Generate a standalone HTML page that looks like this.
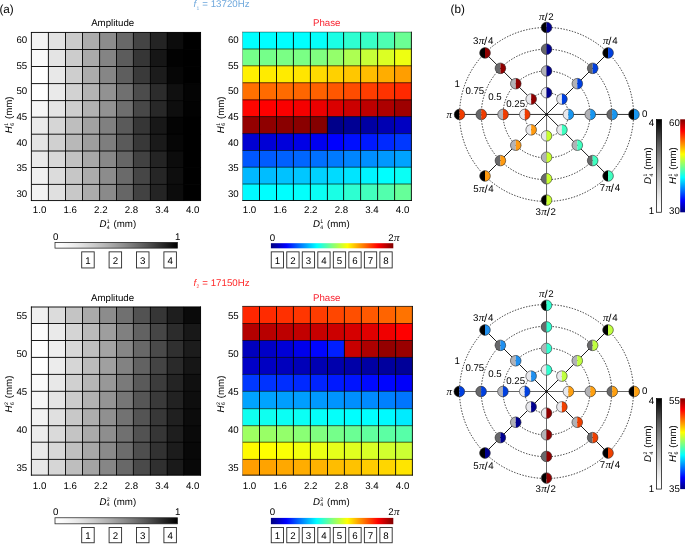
<!DOCTYPE html>
<html><head><meta charset="utf-8"><title>Figure</title>
<style>
html,body{margin:0;padding:0;background:#fff;}
body{width:685px;height:544px;overflow:hidden;font-family:"Liberation Sans",sans-serif;}
svg{display:block;font-family:"Liberation Sans",sans-serif;text-rendering:geometricPrecision;}
#w{will-change:transform;width:685px;height:544px;}
</style></head><body>
<div id="w"><svg width="685" height="544" viewBox="0 0 685 544">
<rect width="685" height="544" fill="#fff"/>
<rect x="31.20" y="32.25" width="17.40" height="17.45" fill="#f4f4f4"/>
<rect x="48.20" y="32.25" width="17.50" height="17.45" fill="#e2e2e2"/>
<rect x="65.30" y="32.25" width="17.40" height="17.45" fill="#cbcbcb"/>
<rect x="82.30" y="32.25" width="17.50" height="17.45" fill="#acacac"/>
<rect x="99.40" y="32.25" width="17.30" height="17.45" fill="#8c8c8c"/>
<rect x="116.30" y="32.25" width="17.30" height="17.45" fill="#686868"/>
<rect x="133.20" y="32.25" width="17.40" height="17.45" fill="#444444"/>
<rect x="150.20" y="32.25" width="17.20" height="17.45" fill="#242424"/>
<rect x="167.00" y="32.25" width="17.00" height="17.45" fill="#0c0c0c"/>
<rect x="183.60" y="32.25" width="17.15" height="17.45" fill="#000000"/>
<rect x="31.20" y="49.30" width="17.40" height="17.40" fill="#fafafa"/>
<rect x="48.20" y="49.30" width="17.50" height="17.40" fill="#e4e4e4"/>
<rect x="65.30" y="49.30" width="17.40" height="17.40" fill="#cccccc"/>
<rect x="82.30" y="49.30" width="17.50" height="17.40" fill="#aaaaaa"/>
<rect x="99.40" y="49.30" width="17.30" height="17.40" fill="#848484"/>
<rect x="116.30" y="49.30" width="17.30" height="17.40" fill="#5c5c5c"/>
<rect x="133.20" y="49.30" width="17.40" height="17.40" fill="#363636"/>
<rect x="150.20" y="49.30" width="17.20" height="17.40" fill="#161616"/>
<rect x="167.00" y="49.30" width="17.00" height="17.40" fill="#020202"/>
<rect x="183.60" y="49.30" width="17.15" height="17.40" fill="#000000"/>
<rect x="31.20" y="66.30" width="17.40" height="17.50" fill="#ffffff"/>
<rect x="48.20" y="66.30" width="17.50" height="17.50" fill="#e8e8e8"/>
<rect x="65.30" y="66.30" width="17.40" height="17.50" fill="#cecece"/>
<rect x="82.30" y="66.30" width="17.50" height="17.50" fill="#acacac"/>
<rect x="99.40" y="66.30" width="17.30" height="17.50" fill="#868686"/>
<rect x="116.30" y="66.30" width="17.30" height="17.50" fill="#5e5e5e"/>
<rect x="133.20" y="66.30" width="17.40" height="17.50" fill="#3a3a3a"/>
<rect x="150.20" y="66.30" width="17.20" height="17.50" fill="#1c1c1c"/>
<rect x="167.00" y="66.30" width="17.00" height="17.50" fill="#060606"/>
<rect x="183.60" y="66.30" width="17.15" height="17.50" fill="#000000"/>
<rect x="31.20" y="83.40" width="17.40" height="17.40" fill="#ffffff"/>
<rect x="48.20" y="83.40" width="17.50" height="17.40" fill="#eaeaea"/>
<rect x="65.30" y="83.40" width="17.40" height="17.40" fill="#d2d2d2"/>
<rect x="82.30" y="83.40" width="17.50" height="17.40" fill="#b4b4b4"/>
<rect x="99.40" y="83.40" width="17.30" height="17.40" fill="#929292"/>
<rect x="116.30" y="83.40" width="17.30" height="17.40" fill="#707070"/>
<rect x="133.20" y="83.40" width="17.40" height="17.40" fill="#4c4c4c"/>
<rect x="150.20" y="83.40" width="17.20" height="17.40" fill="#2c2c2c"/>
<rect x="167.00" y="83.40" width="17.00" height="17.40" fill="#101010"/>
<rect x="183.60" y="83.40" width="17.15" height="17.40" fill="#040404"/>
<rect x="31.20" y="100.40" width="17.40" height="17.00" fill="#f6f6f6"/>
<rect x="48.20" y="100.40" width="17.50" height="17.00" fill="#e4e4e4"/>
<rect x="65.30" y="100.40" width="17.40" height="17.00" fill="#cecece"/>
<rect x="82.30" y="100.40" width="17.50" height="17.00" fill="#b2b2b2"/>
<rect x="99.40" y="100.40" width="17.30" height="17.00" fill="#929292"/>
<rect x="116.30" y="100.40" width="17.30" height="17.00" fill="#6e6e6e"/>
<rect x="133.20" y="100.40" width="17.40" height="17.00" fill="#484848"/>
<rect x="150.20" y="100.40" width="17.20" height="17.00" fill="#282828"/>
<rect x="167.00" y="100.40" width="17.00" height="17.00" fill="#0e0e0e"/>
<rect x="183.60" y="100.40" width="17.15" height="17.00" fill="#020202"/>
<rect x="31.20" y="117.00" width="17.40" height="17.40" fill="#eaeaea"/>
<rect x="48.20" y="117.00" width="17.50" height="17.40" fill="#d6d6d6"/>
<rect x="65.30" y="117.00" width="17.40" height="17.40" fill="#bebebe"/>
<rect x="82.30" y="117.00" width="17.50" height="17.40" fill="#a2a2a2"/>
<rect x="99.40" y="117.00" width="17.30" height="17.40" fill="#808080"/>
<rect x="116.30" y="117.00" width="17.30" height="17.40" fill="#5a5a5a"/>
<rect x="133.20" y="117.00" width="17.40" height="17.40" fill="#363636"/>
<rect x="150.20" y="117.00" width="17.20" height="17.40" fill="#181818"/>
<rect x="167.00" y="117.00" width="17.00" height="17.40" fill="#040404"/>
<rect x="183.60" y="117.00" width="17.15" height="17.40" fill="#000000"/>
<rect x="31.20" y="134.00" width="17.40" height="17.20" fill="#e4e4e4"/>
<rect x="48.20" y="134.00" width="17.50" height="17.20" fill="#d0d0d0"/>
<rect x="65.30" y="134.00" width="17.40" height="17.20" fill="#b8b8b8"/>
<rect x="82.30" y="134.00" width="17.50" height="17.20" fill="#9e9e9e"/>
<rect x="99.40" y="134.00" width="17.30" height="17.20" fill="#7e7e7e"/>
<rect x="116.30" y="134.00" width="17.30" height="17.20" fill="#5a5a5a"/>
<rect x="133.20" y="134.00" width="17.40" height="17.20" fill="#383838"/>
<rect x="150.20" y="134.00" width="17.20" height="17.20" fill="#1a1a1a"/>
<rect x="167.00" y="134.00" width="17.00" height="17.20" fill="#060606"/>
<rect x="183.60" y="134.00" width="17.15" height="17.20" fill="#000000"/>
<rect x="31.20" y="150.80" width="17.40" height="16.90" fill="#eaeaea"/>
<rect x="48.20" y="150.80" width="17.50" height="16.90" fill="#d8d8d8"/>
<rect x="65.30" y="150.80" width="17.40" height="16.90" fill="#c2c2c2"/>
<rect x="82.30" y="150.80" width="17.50" height="16.90" fill="#a8a8a8"/>
<rect x="99.40" y="150.80" width="17.30" height="16.90" fill="#888888"/>
<rect x="116.30" y="150.80" width="17.30" height="16.90" fill="#666666"/>
<rect x="133.20" y="150.80" width="17.40" height="16.90" fill="#424242"/>
<rect x="150.20" y="150.80" width="17.20" height="16.90" fill="#242424"/>
<rect x="167.00" y="150.80" width="17.00" height="16.90" fill="#0c0c0c"/>
<rect x="183.60" y="150.80" width="17.15" height="16.90" fill="#000000"/>
<rect x="31.20" y="167.30" width="17.40" height="17.30" fill="#f0f0f0"/>
<rect x="48.20" y="167.30" width="17.50" height="17.30" fill="#dcdcdc"/>
<rect x="65.30" y="167.30" width="17.40" height="17.30" fill="#c6c6c6"/>
<rect x="82.30" y="167.30" width="17.50" height="17.30" fill="#acacac"/>
<rect x="99.40" y="167.30" width="17.30" height="17.30" fill="#8c8c8c"/>
<rect x="116.30" y="167.30" width="17.30" height="17.30" fill="#6a6a6a"/>
<rect x="133.20" y="167.30" width="17.40" height="17.30" fill="#464646"/>
<rect x="150.20" y="167.30" width="17.20" height="17.30" fill="#262626"/>
<rect x="167.00" y="167.30" width="17.00" height="17.30" fill="#0e0e0e"/>
<rect x="183.60" y="167.30" width="17.15" height="17.30" fill="#000000"/>
<rect x="31.20" y="184.20" width="17.40" height="16.55" fill="#f2f2f2"/>
<rect x="48.20" y="184.20" width="17.50" height="16.55" fill="#e0e0e0"/>
<rect x="65.30" y="184.20" width="17.40" height="16.55" fill="#c8c8c8"/>
<rect x="82.30" y="184.20" width="17.50" height="16.55" fill="#acacac"/>
<rect x="99.40" y="184.20" width="17.30" height="16.55" fill="#8a8a8a"/>
<rect x="116.30" y="184.20" width="17.30" height="16.55" fill="#666666"/>
<rect x="133.20" y="184.20" width="17.40" height="16.55" fill="#424242"/>
<rect x="150.20" y="184.20" width="17.20" height="16.55" fill="#242424"/>
<rect x="167.00" y="184.20" width="17.00" height="16.55" fill="#0c0c0c"/>
<rect x="183.60" y="184.20" width="17.15" height="16.55" fill="#000000"/>
<path d="M48.40 32.45V200.55M65.50 32.45V200.55M82.50 32.45V200.55M99.60 32.45V200.55M116.50 32.45V200.55M133.40 32.45V200.55M150.40 32.45V200.55M167.20 32.45V200.55M183.80 32.45V200.55M200.55 32.00V201.00M30.95 200.55H201.00M31.40 49.50H200.55M31.40 66.50H200.55M31.40 83.60H200.55M31.40 100.60H200.55M31.40 117.20H200.55M31.40 134.20H200.55M31.40 151.00H200.55M31.40 167.50H200.55M31.40 184.40H200.55" stroke="#000" stroke-width="0.90" fill="none"/>
<path d="M31.40 32.00V201.00M30.95 32.45H201.00" stroke="#000" stroke-width="0.90" fill="none"/>
<rect x="242.55" y="32.00" width="17.15" height="17.20" fill="#00ffff"/>
<rect x="259.30" y="32.00" width="17.40" height="17.20" fill="#00ffff"/>
<rect x="276.30" y="32.00" width="17.30" height="17.20" fill="#00ffff"/>
<rect x="293.20" y="32.00" width="17.40" height="17.20" fill="#00ffff"/>
<rect x="310.20" y="32.00" width="17.40" height="17.20" fill="#05fffa"/>
<rect x="327.20" y="32.00" width="16.60" height="17.20" fill="#1affe5"/>
<rect x="343.40" y="32.00" width="17.40" height="17.20" fill="#2effd1"/>
<rect x="360.40" y="32.00" width="17.40" height="17.20" fill="#38ffc7"/>
<rect x="377.40" y="32.00" width="17.40" height="17.20" fill="#4dffb2"/>
<rect x="394.40" y="32.00" width="17.20" height="17.20" fill="#6bff94"/>
<rect x="242.55" y="48.80" width="17.15" height="17.20" fill="#75ff8a"/>
<rect x="259.30" y="48.80" width="17.40" height="17.20" fill="#75ff8a"/>
<rect x="276.30" y="48.80" width="17.30" height="17.20" fill="#7aff85"/>
<rect x="293.20" y="48.80" width="17.40" height="17.20" fill="#7aff85"/>
<rect x="310.20" y="48.80" width="17.40" height="17.20" fill="#80ff80"/>
<rect x="327.20" y="48.80" width="16.60" height="17.20" fill="#94ff6b"/>
<rect x="343.40" y="48.80" width="17.40" height="17.20" fill="#adff52"/>
<rect x="360.40" y="48.80" width="17.40" height="17.20" fill="#c7ff38"/>
<rect x="377.40" y="48.80" width="17.40" height="17.20" fill="#dbff24"/>
<rect x="394.40" y="48.80" width="17.20" height="17.20" fill="#eeff11"/>
<rect x="242.55" y="65.60" width="17.15" height="17.35" fill="#fff000"/>
<rect x="259.30" y="65.60" width="17.40" height="17.35" fill="#ffeb00"/>
<rect x="276.30" y="65.60" width="17.30" height="17.35" fill="#ffeb00"/>
<rect x="293.20" y="65.60" width="17.40" height="17.35" fill="#ffe500"/>
<rect x="310.20" y="65.60" width="17.40" height="17.35" fill="#ffdb00"/>
<rect x="327.20" y="65.60" width="16.60" height="17.35" fill="#ffd100"/>
<rect x="343.40" y="65.60" width="17.40" height="17.35" fill="#ffc700"/>
<rect x="360.40" y="65.60" width="17.40" height="17.35" fill="#ffbd00"/>
<rect x="377.40" y="65.60" width="17.40" height="17.35" fill="#ffad00"/>
<rect x="394.40" y="65.60" width="17.20" height="17.35" fill="#ff9e00"/>
<rect x="242.55" y="82.55" width="17.15" height="17.50" fill="#ff7000"/>
<rect x="259.30" y="82.55" width="17.40" height="17.50" fill="#ff6b00"/>
<rect x="276.30" y="82.55" width="17.30" height="17.50" fill="#ff6b00"/>
<rect x="293.20" y="82.55" width="17.40" height="17.50" fill="#ff6600"/>
<rect x="310.20" y="82.55" width="17.40" height="17.50" fill="#ff6100"/>
<rect x="327.20" y="82.55" width="16.60" height="17.50" fill="#ff5700"/>
<rect x="343.40" y="82.55" width="17.40" height="17.50" fill="#ff4c00"/>
<rect x="360.40" y="82.55" width="17.40" height="17.50" fill="#ff3d00"/>
<rect x="377.40" y="82.55" width="17.40" height="17.50" fill="#ff3300"/>
<rect x="394.40" y="82.55" width="17.20" height="17.50" fill="#ff2900"/>
<rect x="242.55" y="99.65" width="17.15" height="17.15" fill="#ff0500"/>
<rect x="259.30" y="99.65" width="17.40" height="17.15" fill="#ff0000"/>
<rect x="276.30" y="99.65" width="17.30" height="17.15" fill="#fa0000"/>
<rect x="293.20" y="99.65" width="17.40" height="17.15" fill="#f50000"/>
<rect x="310.20" y="99.65" width="17.40" height="17.15" fill="#eb0000"/>
<rect x="327.20" y="99.65" width="16.60" height="17.15" fill="#db0000"/>
<rect x="343.40" y="99.65" width="17.40" height="17.15" fill="#cc0000"/>
<rect x="360.40" y="99.65" width="17.40" height="17.15" fill="#bd0000"/>
<rect x="377.40" y="99.65" width="17.40" height="17.15" fill="#ad0000"/>
<rect x="394.40" y="99.65" width="17.20" height="17.15" fill="#9e0000"/>
<rect x="242.55" y="116.40" width="17.15" height="17.40" fill="#940000"/>
<rect x="259.30" y="116.40" width="17.40" height="17.40" fill="#8f0000"/>
<rect x="276.30" y="116.40" width="17.30" height="17.40" fill="#8a0000"/>
<rect x="293.20" y="116.40" width="17.40" height="17.40" fill="#8a0000"/>
<rect x="310.20" y="116.40" width="17.40" height="17.40" fill="#850000"/>
<rect x="327.20" y="116.40" width="16.60" height="17.40" fill="#00008a"/>
<rect x="343.40" y="116.40" width="17.40" height="17.40" fill="#000094"/>
<rect x="360.40" y="116.40" width="17.40" height="17.40" fill="#0000a3"/>
<rect x="377.40" y="116.40" width="17.40" height="17.40" fill="#0000b2"/>
<rect x="394.40" y="116.40" width="17.20" height="17.40" fill="#0000c2"/>
<rect x="242.55" y="133.40" width="17.15" height="17.30" fill="#0000d1"/>
<rect x="259.30" y="133.40" width="17.40" height="17.30" fill="#0000d6"/>
<rect x="276.30" y="133.40" width="17.30" height="17.30" fill="#0000db"/>
<rect x="293.20" y="133.40" width="17.40" height="17.30" fill="#0000e6"/>
<rect x="310.20" y="133.40" width="17.40" height="17.30" fill="#0000f0"/>
<rect x="327.20" y="133.40" width="16.60" height="17.30" fill="#0000ff"/>
<rect x="343.40" y="133.40" width="17.40" height="17.30" fill="#000fff"/>
<rect x="360.40" y="133.40" width="17.40" height="17.30" fill="#0019ff"/>
<rect x="377.40" y="133.40" width="17.40" height="17.30" fill="#0029ff"/>
<rect x="394.40" y="133.40" width="17.20" height="17.30" fill="#0038ff"/>
<rect x="242.55" y="150.30" width="17.15" height="17.10" fill="#0057ff"/>
<rect x="259.30" y="150.30" width="17.40" height="17.10" fill="#005cff"/>
<rect x="276.30" y="150.30" width="17.30" height="17.10" fill="#0061ff"/>
<rect x="293.20" y="150.30" width="17.40" height="17.10" fill="#0066ff"/>
<rect x="310.20" y="150.30" width="17.40" height="17.10" fill="#0070ff"/>
<rect x="327.20" y="150.30" width="16.60" height="17.10" fill="#007aff"/>
<rect x="343.40" y="150.30" width="17.40" height="17.10" fill="#0085ff"/>
<rect x="360.40" y="150.30" width="17.40" height="17.10" fill="#008fff"/>
<rect x="377.40" y="150.30" width="17.40" height="17.10" fill="#0099ff"/>
<rect x="394.40" y="150.30" width="17.20" height="17.10" fill="#00a3ff"/>
<rect x="242.55" y="167.00" width="17.15" height="17.20" fill="#00b8ff"/>
<rect x="259.30" y="167.00" width="17.40" height="17.20" fill="#00bdff"/>
<rect x="276.30" y="167.00" width="17.30" height="17.20" fill="#00c2ff"/>
<rect x="293.20" y="167.00" width="17.40" height="17.20" fill="#00c7ff"/>
<rect x="310.20" y="167.00" width="17.40" height="17.20" fill="#00d1ff"/>
<rect x="327.20" y="167.00" width="16.60" height="17.20" fill="#00dbff"/>
<rect x="343.40" y="167.00" width="17.40" height="17.20" fill="#00e5ff"/>
<rect x="360.40" y="167.00" width="17.40" height="17.20" fill="#00f5ff"/>
<rect x="377.40" y="167.00" width="17.40" height="17.20" fill="#00ffff"/>
<rect x="394.40" y="167.00" width="17.20" height="17.20" fill="#0afff5"/>
<rect x="242.55" y="183.80" width="17.15" height="16.90" fill="#00faff"/>
<rect x="259.30" y="183.80" width="17.40" height="16.90" fill="#00ffff"/>
<rect x="276.30" y="183.80" width="17.30" height="16.90" fill="#00ffff"/>
<rect x="293.20" y="183.80" width="17.40" height="16.90" fill="#03fffc"/>
<rect x="310.20" y="183.80" width="17.40" height="16.90" fill="#0afff5"/>
<rect x="327.20" y="183.80" width="16.60" height="16.90" fill="#1affe5"/>
<rect x="343.40" y="183.80" width="17.40" height="16.90" fill="#2effd1"/>
<rect x="360.40" y="183.80" width="17.40" height="16.90" fill="#42ffbd"/>
<rect x="377.40" y="183.80" width="17.40" height="16.90" fill="#52ffad"/>
<rect x="394.40" y="183.80" width="17.20" height="16.90" fill="#66ff99"/>
<path d="M242.75 49.00H411.40M242.75 65.80H411.40M242.75 82.75H411.40M242.75 99.85H411.40M242.75 116.60H411.40M242.75 133.60H411.40M242.75 150.50H411.40M242.75 167.20H411.40M242.75 184.00H411.40" stroke="#000" stroke-width="0.90" stroke-opacity="0.72" fill="none"/>
<path d="M259.50 32.20V200.50M276.50 32.20V200.50M293.40 32.20V200.50M310.40 32.20V200.50M327.40 32.20V200.50M343.60 32.20V200.50M360.60 32.20V200.50M377.60 32.20V200.50M394.60 32.20V200.50M411.40 31.75V200.95M242.30 200.50H411.85" stroke="#000" stroke-width="0.90" fill="none"/>
<path d="M242.50 31.75V200.95" stroke="#000" stroke-width="0.60" stroke-opacity="0.45" fill="none"/>
<path d="M242.30 32.10H411.85" stroke="#000" stroke-width="0.80" stroke-opacity="0.5" fill="none"/>
<rect x="31.20" y="306.80" width="17.40" height="16.90" fill="#f0f0f0"/>
<rect x="48.20" y="306.80" width="17.50" height="16.90" fill="#dcdcdc"/>
<rect x="65.30" y="306.80" width="17.40" height="16.90" fill="#c4c4c4"/>
<rect x="82.30" y="306.80" width="17.50" height="16.90" fill="#aaaaaa"/>
<rect x="99.40" y="306.80" width="17.30" height="16.90" fill="#8c8c8c"/>
<rect x="116.30" y="306.80" width="17.30" height="16.90" fill="#707070"/>
<rect x="133.20" y="306.80" width="17.40" height="16.90" fill="#525252"/>
<rect x="150.20" y="306.80" width="17.20" height="16.90" fill="#363636"/>
<rect x="167.00" y="306.80" width="17.00" height="16.90" fill="#1e1e1e"/>
<rect x="183.60" y="306.80" width="17.15" height="16.90" fill="#0a0a0a"/>
<rect x="31.20" y="323.30" width="17.40" height="17.40" fill="#fcfcfc"/>
<rect x="48.20" y="323.30" width="17.50" height="17.40" fill="#eaeaea"/>
<rect x="65.30" y="323.30" width="17.40" height="17.40" fill="#d4d4d4"/>
<rect x="82.30" y="323.30" width="17.50" height="17.40" fill="#bababa"/>
<rect x="99.40" y="323.30" width="17.30" height="17.40" fill="#9e9e9e"/>
<rect x="116.30" y="323.30" width="17.30" height="17.40" fill="#808080"/>
<rect x="133.20" y="323.30" width="17.40" height="17.40" fill="#626262"/>
<rect x="150.20" y="323.30" width="17.20" height="17.40" fill="#464646"/>
<rect x="167.00" y="323.30" width="17.00" height="17.40" fill="#2c2c2c"/>
<rect x="183.60" y="323.30" width="17.15" height="17.40" fill="#181818"/>
<rect x="31.20" y="340.30" width="17.40" height="17.30" fill="#ffffff"/>
<rect x="48.20" y="340.30" width="17.50" height="17.30" fill="#eeeeee"/>
<rect x="65.30" y="340.30" width="17.40" height="17.30" fill="#d8d8d8"/>
<rect x="82.30" y="340.30" width="17.50" height="17.30" fill="#c0c0c0"/>
<rect x="99.40" y="340.30" width="17.30" height="17.30" fill="#a4a4a4"/>
<rect x="116.30" y="340.30" width="17.30" height="17.30" fill="#868686"/>
<rect x="133.20" y="340.30" width="17.40" height="17.30" fill="#686868"/>
<rect x="150.20" y="340.30" width="17.20" height="17.30" fill="#4a4a4a"/>
<rect x="167.00" y="340.30" width="17.00" height="17.30" fill="#303030"/>
<rect x="183.60" y="340.30" width="17.15" height="17.30" fill="#1c1c1c"/>
<rect x="31.20" y="357.20" width="17.40" height="17.40" fill="#ffffff"/>
<rect x="48.20" y="357.20" width="17.50" height="17.40" fill="#ececec"/>
<rect x="65.30" y="357.20" width="17.40" height="17.40" fill="#d6d6d6"/>
<rect x="82.30" y="357.20" width="17.50" height="17.40" fill="#bcbcbc"/>
<rect x="99.40" y="357.20" width="17.30" height="17.40" fill="#a0a0a0"/>
<rect x="116.30" y="357.20" width="17.30" height="17.40" fill="#828282"/>
<rect x="133.20" y="357.20" width="17.40" height="17.40" fill="#626262"/>
<rect x="150.20" y="357.20" width="17.20" height="17.40" fill="#444444"/>
<rect x="167.00" y="357.20" width="17.00" height="17.40" fill="#2a2a2a"/>
<rect x="183.60" y="357.20" width="17.15" height="17.40" fill="#161616"/>
<rect x="31.20" y="374.20" width="17.40" height="17.30" fill="#fafafa"/>
<rect x="48.20" y="374.20" width="17.50" height="17.30" fill="#e8e8e8"/>
<rect x="65.30" y="374.20" width="17.40" height="17.30" fill="#d0d0d0"/>
<rect x="82.30" y="374.20" width="17.50" height="17.30" fill="#b6b6b6"/>
<rect x="99.40" y="374.20" width="17.30" height="17.30" fill="#989898"/>
<rect x="116.30" y="374.20" width="17.30" height="17.30" fill="#7a7a7a"/>
<rect x="133.20" y="374.20" width="17.40" height="17.30" fill="#5a5a5a"/>
<rect x="150.20" y="374.20" width="17.20" height="17.30" fill="#3c3c3c"/>
<rect x="167.00" y="374.20" width="17.00" height="17.30" fill="#242424"/>
<rect x="183.60" y="374.20" width="17.15" height="17.30" fill="#101010"/>
<rect x="31.20" y="391.10" width="17.40" height="17.80" fill="#f6f6f6"/>
<rect x="48.20" y="391.10" width="17.50" height="17.80" fill="#e4e4e4"/>
<rect x="65.30" y="391.10" width="17.40" height="17.80" fill="#cccccc"/>
<rect x="82.30" y="391.10" width="17.50" height="17.80" fill="#b2b2b2"/>
<rect x="99.40" y="391.10" width="17.30" height="17.80" fill="#949494"/>
<rect x="116.30" y="391.10" width="17.30" height="17.80" fill="#767676"/>
<rect x="133.20" y="391.10" width="17.40" height="17.80" fill="#565656"/>
<rect x="150.20" y="391.10" width="17.20" height="17.80" fill="#3a3a3a"/>
<rect x="167.00" y="391.10" width="17.00" height="17.80" fill="#222222"/>
<rect x="183.60" y="391.10" width="17.15" height="17.80" fill="#0e0e0e"/>
<rect x="31.20" y="408.50" width="17.40" height="17.40" fill="#f2f2f2"/>
<rect x="48.20" y="408.50" width="17.50" height="17.40" fill="#e0e0e0"/>
<rect x="65.30" y="408.50" width="17.40" height="17.40" fill="#c8c8c8"/>
<rect x="82.30" y="408.50" width="17.50" height="17.40" fill="#aeaeae"/>
<rect x="99.40" y="408.50" width="17.30" height="17.40" fill="#909090"/>
<rect x="116.30" y="408.50" width="17.30" height="17.40" fill="#727272"/>
<rect x="133.20" y="408.50" width="17.40" height="17.40" fill="#545454"/>
<rect x="150.20" y="408.50" width="17.20" height="17.40" fill="#383838"/>
<rect x="167.00" y="408.50" width="17.00" height="17.40" fill="#202020"/>
<rect x="183.60" y="408.50" width="17.15" height="17.40" fill="#0c0c0c"/>
<rect x="31.20" y="425.50" width="17.40" height="16.90" fill="#ececec"/>
<rect x="48.20" y="425.50" width="17.50" height="16.90" fill="#dadada"/>
<rect x="65.30" y="425.50" width="17.40" height="16.90" fill="#c4c4c4"/>
<rect x="82.30" y="425.50" width="17.50" height="16.90" fill="#aaaaaa"/>
<rect x="99.40" y="425.50" width="17.30" height="16.90" fill="#8e8e8e"/>
<rect x="116.30" y="425.50" width="17.30" height="16.90" fill="#707070"/>
<rect x="133.20" y="425.50" width="17.40" height="16.90" fill="#525252"/>
<rect x="150.20" y="425.50" width="17.20" height="16.90" fill="#363636"/>
<rect x="167.00" y="425.50" width="17.00" height="16.90" fill="#1e1e1e"/>
<rect x="183.60" y="425.50" width="17.15" height="16.90" fill="#0a0a0a"/>
<rect x="31.20" y="442.00" width="17.40" height="17.60" fill="#eaeaea"/>
<rect x="48.20" y="442.00" width="17.50" height="17.60" fill="#d8d8d8"/>
<rect x="65.30" y="442.00" width="17.40" height="17.60" fill="#c0c0c0"/>
<rect x="82.30" y="442.00" width="17.50" height="17.60" fill="#a8a8a8"/>
<rect x="99.40" y="442.00" width="17.30" height="17.60" fill="#8a8a8a"/>
<rect x="116.30" y="442.00" width="17.30" height="17.60" fill="#6c6c6c"/>
<rect x="133.20" y="442.00" width="17.40" height="17.60" fill="#4e4e4e"/>
<rect x="150.20" y="442.00" width="17.20" height="17.60" fill="#323232"/>
<rect x="167.00" y="442.00" width="17.00" height="17.60" fill="#1c1c1c"/>
<rect x="183.60" y="442.00" width="17.15" height="17.60" fill="#080808"/>
<rect x="31.20" y="459.20" width="17.40" height="16.15" fill="#e8e8e8"/>
<rect x="48.20" y="459.20" width="17.50" height="16.15" fill="#d6d6d6"/>
<rect x="65.30" y="459.20" width="17.40" height="16.15" fill="#bebebe"/>
<rect x="82.30" y="459.20" width="17.50" height="16.15" fill="#a4a4a4"/>
<rect x="99.40" y="459.20" width="17.30" height="16.15" fill="#868686"/>
<rect x="116.30" y="459.20" width="17.30" height="16.15" fill="#686868"/>
<rect x="133.20" y="459.20" width="17.40" height="16.15" fill="#4a4a4a"/>
<rect x="150.20" y="459.20" width="17.20" height="16.15" fill="#303030"/>
<rect x="167.00" y="459.20" width="17.00" height="16.15" fill="#1a1a1a"/>
<rect x="183.60" y="459.20" width="17.15" height="16.15" fill="#080808"/>
<path d="M48.40 307.00V475.15M65.50 307.00V475.15M82.50 307.00V475.15M99.60 307.00V475.15M116.50 307.00V475.15M133.40 307.00V475.15M150.40 307.00V475.15M167.20 307.00V475.15M183.80 307.00V475.15M200.55 306.55V475.60M30.95 475.15H201.00M31.40 323.50H200.55M31.40 340.50H200.55M31.40 357.40H200.55M31.40 374.40H200.55M31.40 391.30H200.55M31.40 408.70H200.55M31.40 425.70H200.55M31.40 442.20H200.55M31.40 459.40H200.55" stroke="#000" stroke-width="0.90" fill="none"/>
<path d="M31.40 306.55V475.60M30.95 307.00H201.00" stroke="#000" stroke-width="0.90" fill="none"/>
<rect x="242.55" y="306.30" width="17.15" height="17.40" fill="#ff2600"/>
<rect x="259.30" y="306.30" width="17.40" height="17.40" fill="#ff2b00"/>
<rect x="276.30" y="306.30" width="17.30" height="17.40" fill="#ff3000"/>
<rect x="293.20" y="306.30" width="17.40" height="17.40" fill="#ff3600"/>
<rect x="310.20" y="306.30" width="17.50" height="17.40" fill="#ff3c00"/>
<rect x="327.30" y="306.30" width="17.30" height="17.40" fill="#ff4600"/>
<rect x="344.20" y="306.30" width="17.40" height="17.40" fill="#ff4f00"/>
<rect x="361.20" y="306.30" width="17.50" height="17.40" fill="#ff5900"/>
<rect x="378.30" y="306.30" width="17.50" height="17.40" fill="#ff6400"/>
<rect x="395.40" y="306.30" width="17.20" height="17.40" fill="#ff7300"/>
<rect x="242.55" y="323.30" width="17.15" height="17.40" fill="#b30000"/>
<rect x="259.30" y="323.30" width="17.40" height="17.40" fill="#b80000"/>
<rect x="276.30" y="323.30" width="17.30" height="17.40" fill="#bd0000"/>
<rect x="293.20" y="323.30" width="17.40" height="17.40" fill="#c20000"/>
<rect x="310.20" y="323.30" width="17.50" height="17.40" fill="#c70000"/>
<rect x="327.30" y="323.30" width="17.30" height="17.40" fill="#cc0000"/>
<rect x="344.20" y="323.30" width="17.40" height="17.40" fill="#d60000"/>
<rect x="361.20" y="323.30" width="17.50" height="17.40" fill="#e00000"/>
<rect x="378.30" y="323.30" width="17.50" height="17.40" fill="#f00000"/>
<rect x="395.40" y="323.30" width="17.20" height="17.40" fill="#ff0000"/>
<rect x="242.55" y="340.30" width="17.15" height="17.30" fill="#0000bd"/>
<rect x="259.30" y="340.30" width="17.40" height="17.30" fill="#0000c7"/>
<rect x="276.30" y="340.30" width="17.30" height="17.30" fill="#0000d6"/>
<rect x="293.20" y="340.30" width="17.40" height="17.30" fill="#0000eb"/>
<rect x="310.20" y="340.30" width="17.50" height="17.30" fill="#0005ff"/>
<rect x="327.30" y="340.30" width="17.30" height="17.30" fill="#001fff"/>
<rect x="344.20" y="340.30" width="17.40" height="17.30" fill="#c70000"/>
<rect x="361.20" y="340.30" width="17.50" height="17.30" fill="#ad0000"/>
<rect x="378.30" y="340.30" width="17.50" height="17.30" fill="#940000"/>
<rect x="395.40" y="340.30" width="17.20" height="17.30" fill="#990000"/>
<rect x="242.55" y="357.20" width="17.15" height="17.40" fill="#0000c7"/>
<rect x="259.30" y="357.20" width="17.40" height="17.40" fill="#0000c2"/>
<rect x="276.30" y="357.20" width="17.30" height="17.40" fill="#0000bd"/>
<rect x="293.20" y="357.20" width="17.40" height="17.40" fill="#0000b8"/>
<rect x="310.20" y="357.20" width="17.50" height="17.40" fill="#0000b2"/>
<rect x="327.30" y="357.20" width="17.30" height="17.40" fill="#0000ad"/>
<rect x="344.20" y="357.20" width="17.40" height="17.40" fill="#0000a8"/>
<rect x="361.20" y="357.20" width="17.50" height="17.40" fill="#0000a3"/>
<rect x="378.30" y="357.20" width="17.50" height="17.40" fill="#00009e"/>
<rect x="395.40" y="357.20" width="17.20" height="17.40" fill="#000099"/>
<rect x="242.55" y="374.20" width="17.15" height="17.30" fill="#0038ff"/>
<rect x="259.30" y="374.20" width="17.40" height="17.30" fill="#0033ff"/>
<rect x="276.30" y="374.20" width="17.30" height="17.30" fill="#002eff"/>
<rect x="293.20" y="374.20" width="17.40" height="17.30" fill="#0029ff"/>
<rect x="310.20" y="374.20" width="17.50" height="17.30" fill="#0024ff"/>
<rect x="327.30" y="374.20" width="17.30" height="17.30" fill="#0019ff"/>
<rect x="344.20" y="374.20" width="17.40" height="17.30" fill="#0014ff"/>
<rect x="361.20" y="374.20" width="17.50" height="17.30" fill="#000aff"/>
<rect x="378.30" y="374.20" width="17.50" height="17.30" fill="#0005ff"/>
<rect x="395.40" y="374.20" width="17.20" height="17.30" fill="#0000fa"/>
<rect x="242.55" y="391.10" width="17.15" height="17.80" fill="#00a3ff"/>
<rect x="259.30" y="391.10" width="17.40" height="17.80" fill="#00a3ff"/>
<rect x="276.30" y="391.10" width="17.30" height="17.80" fill="#009eff"/>
<rect x="293.20" y="391.10" width="17.40" height="17.80" fill="#009eff"/>
<rect x="310.20" y="391.10" width="17.50" height="17.80" fill="#0099ff"/>
<rect x="327.30" y="391.10" width="17.30" height="17.80" fill="#0094ff"/>
<rect x="344.20" y="391.10" width="17.40" height="17.80" fill="#008fff"/>
<rect x="361.20" y="391.10" width="17.50" height="17.80" fill="#008aff"/>
<rect x="378.30" y="391.10" width="17.50" height="17.80" fill="#0080ff"/>
<rect x="395.40" y="391.10" width="17.20" height="17.80" fill="#0075ff"/>
<rect x="242.55" y="408.50" width="17.15" height="17.40" fill="#0ffff0"/>
<rect x="259.30" y="408.50" width="17.40" height="17.40" fill="#0ffff0"/>
<rect x="276.30" y="408.50" width="17.30" height="17.40" fill="#0afff5"/>
<rect x="293.20" y="408.50" width="17.40" height="17.40" fill="#0afff5"/>
<rect x="310.20" y="408.50" width="17.50" height="17.40" fill="#05fffa"/>
<rect x="327.30" y="408.50" width="17.30" height="17.40" fill="#05fffa"/>
<rect x="344.20" y="408.50" width="17.40" height="17.40" fill="#00ffff"/>
<rect x="361.20" y="408.50" width="17.50" height="17.40" fill="#00ffff"/>
<rect x="378.30" y="408.50" width="17.50" height="17.40" fill="#00faff"/>
<rect x="395.40" y="408.50" width="17.20" height="17.40" fill="#00ebff"/>
<rect x="242.55" y="425.50" width="17.15" height="16.90" fill="#9eff61"/>
<rect x="259.30" y="425.50" width="17.40" height="16.90" fill="#99ff66"/>
<rect x="276.30" y="425.50" width="17.30" height="16.90" fill="#94ff6b"/>
<rect x="293.20" y="425.50" width="17.40" height="16.90" fill="#8aff75"/>
<rect x="310.20" y="425.50" width="17.50" height="16.90" fill="#80ff80"/>
<rect x="327.30" y="425.50" width="17.30" height="16.90" fill="#75ff8a"/>
<rect x="344.20" y="425.50" width="17.40" height="16.90" fill="#6bff94"/>
<rect x="361.20" y="425.50" width="17.50" height="16.90" fill="#61ff9e"/>
<rect x="378.30" y="425.50" width="17.50" height="16.90" fill="#5cffa3"/>
<rect x="395.40" y="425.50" width="17.20" height="16.90" fill="#57ffa8"/>
<rect x="242.55" y="442.00" width="17.15" height="17.60" fill="#fffa00"/>
<rect x="259.30" y="442.00" width="17.40" height="17.60" fill="#ffff00"/>
<rect x="276.30" y="442.00" width="17.30" height="17.60" fill="#faff05"/>
<rect x="293.20" y="442.00" width="17.40" height="17.60" fill="#f2ff0d"/>
<rect x="310.20" y="442.00" width="17.50" height="17.60" fill="#ecff13"/>
<rect x="327.30" y="442.00" width="17.30" height="17.60" fill="#e5ff1a"/>
<rect x="344.20" y="442.00" width="17.40" height="17.60" fill="#e0ff1f"/>
<rect x="361.20" y="442.00" width="17.50" height="17.60" fill="#d9ff26"/>
<rect x="378.30" y="442.00" width="17.50" height="17.60" fill="#d1ff2e"/>
<rect x="395.40" y="442.00" width="17.20" height="17.60" fill="#ccff33"/>
<rect x="242.55" y="459.20" width="17.15" height="16.15" fill="#ff9e00"/>
<rect x="259.30" y="459.20" width="17.40" height="16.15" fill="#ffa300"/>
<rect x="276.30" y="459.20" width="17.30" height="16.15" fill="#ffa800"/>
<rect x="293.20" y="459.20" width="17.40" height="16.15" fill="#ffad00"/>
<rect x="310.20" y="459.20" width="17.50" height="16.15" fill="#ffb300"/>
<rect x="327.30" y="459.20" width="17.30" height="16.15" fill="#ffbd00"/>
<rect x="344.20" y="459.20" width="17.40" height="16.15" fill="#ffc200"/>
<rect x="361.20" y="459.20" width="17.50" height="16.15" fill="#ffcc00"/>
<rect x="378.30" y="459.20" width="17.50" height="16.15" fill="#ffd600"/>
<rect x="395.40" y="459.20" width="17.20" height="16.15" fill="#ffe500"/>
<path d="M242.75 323.50H412.40M242.75 340.50H412.40M242.75 357.40H412.40M242.75 374.40H412.40M242.75 391.30H412.40M242.75 408.70H412.40M242.75 425.70H412.40M242.75 442.20H412.40M242.75 459.40H412.40" stroke="#000" stroke-width="0.90" stroke-opacity="0.72" fill="none"/>
<path d="M259.50 306.50V475.15M276.50 306.50V475.15M293.40 306.50V475.15M310.40 306.50V475.15M327.50 306.50V475.15M344.40 306.50V475.15M361.40 306.50V475.15M378.50 306.50V475.15M395.60 306.50V475.15M412.40 306.05V475.60M242.30 475.15H412.85" stroke="#000" stroke-width="0.90" fill="none"/>
<path d="M242.50 306.05V475.60" stroke="#000" stroke-width="0.60" stroke-opacity="0.45" fill="none"/>
<path d="M242.30 306.40H412.85" stroke="#000" stroke-width="0.80" stroke-opacity="0.9" fill="none"/>
<text x="-0.60" y="12.55" font-size="11.70" text-anchor="start" fill="#000" >(a)</text>
<text x="450.50" y="12.55" font-size="11.70" text-anchor="start" fill="#000" >(b)</text>
<text x="193.5" y="7.2" font-size="9.7" fill="#6fa8dc"><tspan font-style="italic">f</tspan><tspan font-size="5" dy="2.4" dx="0.2">1</tspan><tspan dy="-2.4" dx="0.5"> = 13720Hz</tspan></text>
<text x="193.5" y="285.9" font-size="9.7" fill="#ff2a2a"><tspan font-style="italic">f</tspan><tspan font-size="5" dy="2.4" dx="0.2">2</tspan><tspan dy="-2.4" dx="0.5"> = 17150Hz</tspan></text>
<text x="112.70" y="26.10" font-size="9.70" text-anchor="middle" fill="#000" >Amplitude</text>
<text x="326.70" y="26.10" font-size="9.70" text-anchor="middle" fill="#f8222f" >Phase</text>
<text x="112.60" y="300.50" font-size="9.70" text-anchor="middle" fill="#000" >Amplitude</text>
<text x="326.70" y="300.50" font-size="9.70" text-anchor="middle" fill="#f8222f" >Phase</text>
<text x="27.20" y="43.30" font-size="9.70" text-anchor="end" fill="#000" >60</text>
<text x="27.20" y="68.90" font-size="9.70" text-anchor="end" fill="#000" >55</text>
<text x="27.20" y="94.30" font-size="9.70" text-anchor="end" fill="#000" >50</text>
<text x="27.20" y="120.00" font-size="9.70" text-anchor="end" fill="#000" >45</text>
<text x="27.20" y="145.70" font-size="9.70" text-anchor="end" fill="#000" >40</text>
<text x="27.20" y="171.40" font-size="9.70" text-anchor="end" fill="#000" >35</text>
<text x="27.20" y="197.10" font-size="9.70" text-anchor="end" fill="#000" >30</text>
<text x="27.20" y="318.60" font-size="9.70" text-anchor="end" fill="#000" >55</text>
<text x="27.20" y="356.60" font-size="9.70" text-anchor="end" fill="#000" >50</text>
<text x="27.20" y="394.70" font-size="9.70" text-anchor="end" fill="#000" >45</text>
<text x="27.20" y="432.80" font-size="9.70" text-anchor="end" fill="#000" >40</text>
<text x="27.20" y="470.90" font-size="9.70" text-anchor="end" fill="#000" >35</text>
<text x="238.70" y="43.30" font-size="9.70" text-anchor="end" fill="#000" >60</text>
<text x="238.70" y="68.90" font-size="9.70" text-anchor="end" fill="#000" >55</text>
<text x="238.70" y="94.30" font-size="9.70" text-anchor="end" fill="#000" >50</text>
<text x="238.70" y="120.00" font-size="9.70" text-anchor="end" fill="#000" >45</text>
<text x="238.70" y="145.70" font-size="9.70" text-anchor="end" fill="#000" >40</text>
<text x="238.70" y="171.40" font-size="9.70" text-anchor="end" fill="#000" >35</text>
<text x="238.70" y="197.10" font-size="9.70" text-anchor="end" fill="#000" >30</text>
<text x="238.70" y="318.60" font-size="9.70" text-anchor="end" fill="#000" >55</text>
<text x="238.70" y="356.60" font-size="9.70" text-anchor="end" fill="#000" >50</text>
<text x="238.70" y="394.70" font-size="9.70" text-anchor="end" fill="#000" >45</text>
<text x="238.70" y="432.80" font-size="9.70" text-anchor="end" fill="#000" >40</text>
<text x="238.70" y="470.90" font-size="9.70" text-anchor="end" fill="#000" >35</text>
<text transform="translate(12.20 133.20) rotate(-90)" font-size="9.70" text-anchor="start"><tspan font-style="italic">H</tspan><tspan font-size="5.2" dy="-4.0" dx="0.4">1</tspan><tspan font-size="5.2" dy="5.8" dx="-2.9">6</tspan><tspan dy="-1.8" dx="1.2"> (mm)</tspan></text>
<text transform="translate(12.20 412.40) rotate(-90)" font-size="9.70" text-anchor="start"><tspan font-style="italic">H</tspan><tspan font-size="5.2" dy="-4.0" dx="0.4">2</tspan><tspan font-size="5.2" dy="5.8" dx="-2.9">6</tspan><tspan dy="-1.8" dx="1.2"> (mm)</tspan></text>
<text transform="translate(223.60 133.20) rotate(-90)" font-size="9.70" text-anchor="start"><tspan font-style="italic">H</tspan><tspan font-size="5.2" dy="-4.0" dx="0.4">1</tspan><tspan font-size="5.2" dy="5.8" dx="-2.9">6</tspan><tspan dy="-1.8" dx="1.2"> (mm)</tspan></text>
<text transform="translate(223.60 412.40) rotate(-90)" font-size="9.70" text-anchor="start"><tspan font-style="italic">H</tspan><tspan font-size="5.2" dy="-4.0" dx="0.4">2</tspan><tspan font-size="5.2" dy="5.8" dx="-2.9">6</tspan><tspan dy="-1.8" dx="1.2"> (mm)</tspan></text>
<text x="39.60" y="212.70" font-size="9.70" text-anchor="middle" fill="#000" >1.0</text>
<text x="39.60" y="489.00" font-size="9.70" text-anchor="middle" fill="#000" >1.0</text>
<text x="70.22" y="212.70" font-size="9.70" text-anchor="middle" fill="#000" >1.6</text>
<text x="70.22" y="489.00" font-size="9.70" text-anchor="middle" fill="#000" >1.6</text>
<text x="100.84" y="212.70" font-size="9.70" text-anchor="middle" fill="#000" >2.2</text>
<text x="100.84" y="489.00" font-size="9.70" text-anchor="middle" fill="#000" >2.2</text>
<text x="131.46" y="212.70" font-size="9.70" text-anchor="middle" fill="#000" >2.8</text>
<text x="131.46" y="489.00" font-size="9.70" text-anchor="middle" fill="#000" >2.8</text>
<text x="162.08" y="212.70" font-size="9.70" text-anchor="middle" fill="#000" >3.4</text>
<text x="162.08" y="489.00" font-size="9.70" text-anchor="middle" fill="#000" >3.4</text>
<text x="192.70" y="212.70" font-size="9.70" text-anchor="middle" fill="#000" >4.0</text>
<text x="192.70" y="489.00" font-size="9.70" text-anchor="middle" fill="#000" >4.0</text>
<text x="249.50" y="212.70" font-size="9.70" text-anchor="middle" fill="#000" >1.0</text>
<text x="249.50" y="489.00" font-size="9.70" text-anchor="middle" fill="#000" >1.0</text>
<text x="280.12" y="212.70" font-size="9.70" text-anchor="middle" fill="#000" >1.6</text>
<text x="280.12" y="489.00" font-size="9.70" text-anchor="middle" fill="#000" >1.6</text>
<text x="310.74" y="212.70" font-size="9.70" text-anchor="middle" fill="#000" >2.2</text>
<text x="310.74" y="489.00" font-size="9.70" text-anchor="middle" fill="#000" >2.2</text>
<text x="341.36" y="212.70" font-size="9.70" text-anchor="middle" fill="#000" >2.8</text>
<text x="341.36" y="489.00" font-size="9.70" text-anchor="middle" fill="#000" >2.8</text>
<text x="371.98" y="212.70" font-size="9.70" text-anchor="middle" fill="#000" >3.4</text>
<text x="371.98" y="489.00" font-size="9.70" text-anchor="middle" fill="#000" >3.4</text>
<text x="402.60" y="212.70" font-size="9.70" text-anchor="middle" fill="#000" >4.0</text>
<text x="402.60" y="489.00" font-size="9.70" text-anchor="middle" fill="#000" >4.0</text>
<text x="99.40" y="227.10" font-size="9.70" text-anchor="start" fill="#000" ><tspan font-style="italic">D</tspan><tspan font-size="5.2" dy="-4.0" dx="0.4">1</tspan><tspan font-size="5.2" dy="5.8" dx="-2.9">4</tspan><tspan dy="-1.8" dx="1.2"> (mm)</tspan></text>
<text x="99.40" y="504.60" font-size="9.70" text-anchor="start" fill="#000" ><tspan font-style="italic">D</tspan><tspan font-size="5.2" dy="-4.0" dx="0.4">2</tspan><tspan font-size="5.2" dy="5.8" dx="-2.9">4</tspan><tspan dy="-1.8" dx="1.2"> (mm)</tspan></text>
<text x="312.90" y="227.10" font-size="9.70" text-anchor="start" fill="#000" ><tspan font-style="italic">D</tspan><tspan font-size="5.2" dy="-4.0" dx="0.4">1</tspan><tspan font-size="5.2" dy="5.8" dx="-2.9">4</tspan><tspan dy="-1.8" dx="1.2"> (mm)</tspan></text>
<text x="312.90" y="504.60" font-size="9.70" text-anchor="start" fill="#000" ><tspan font-style="italic">D</tspan><tspan font-size="5.2" dy="-4.0" dx="0.4">2</tspan><tspan font-size="5.2" dy="5.8" dx="-2.9">4</tspan><tspan dy="-1.8" dx="1.2"> (mm)</tspan></text>
<defs>
<linearGradient id="gg" x1="0" x2="1" y1="0" y2="0"><stop offset="0.0000" stop-color="#ffffff"/><stop offset="0.0625" stop-color="#fafafa"/><stop offset="0.1250" stop-color="#f1f1f1"/><stop offset="0.1875" stop-color="#e7e7e7"/><stop offset="0.2500" stop-color="#dadada"/><stop offset="0.3125" stop-color="#cdcdcd"/><stop offset="0.3750" stop-color="#bebebe"/><stop offset="0.4375" stop-color="#afafaf"/><stop offset="0.5000" stop-color="#9e9e9e"/><stop offset="0.5625" stop-color="#8d8d8d"/><stop offset="0.6250" stop-color="#7b7b7b"/><stop offset="0.6875" stop-color="#686868"/><stop offset="0.7500" stop-color="#555555"/><stop offset="0.8125" stop-color="#404040"/><stop offset="0.8750" stop-color="#2b2b2b"/><stop offset="0.9375" stop-color="#161616"/><stop offset="1.0000" stop-color="#000000"/></linearGradient>
<linearGradient id="ggv" x1="0" x2="0" y1="0" y2="1"><stop offset="0.0000" stop-color="#000000"/><stop offset="0.0625" stop-color="#161616"/><stop offset="0.1250" stop-color="#2b2b2b"/><stop offset="0.1875" stop-color="#404040"/><stop offset="0.2500" stop-color="#555555"/><stop offset="0.3125" stop-color="#686868"/><stop offset="0.3750" stop-color="#7b7b7b"/><stop offset="0.4375" stop-color="#8d8d8d"/><stop offset="0.5000" stop-color="#9e9e9e"/><stop offset="0.5625" stop-color="#afafaf"/><stop offset="0.6250" stop-color="#bebebe"/><stop offset="0.6875" stop-color="#cdcdcd"/><stop offset="0.7500" stop-color="#dadada"/><stop offset="0.8125" stop-color="#e7e7e7"/><stop offset="0.8750" stop-color="#f1f1f1"/><stop offset="0.9375" stop-color="#fafafa"/><stop offset="1.0000" stop-color="#ffffff"/></linearGradient>
<linearGradient id="jg" x1="0" x2="1" y1="0" y2="0"><stop offset="0.0000" stop-color="#000080"/><stop offset="0.0312" stop-color="#00009f"/><stop offset="0.0625" stop-color="#0000bf"/><stop offset="0.0938" stop-color="#0000df"/><stop offset="0.1250" stop-color="#0000ff"/><stop offset="0.1562" stop-color="#0020ff"/><stop offset="0.1875" stop-color="#0040ff"/><stop offset="0.2188" stop-color="#0060ff"/><stop offset="0.2500" stop-color="#0080ff"/><stop offset="0.2812" stop-color="#009fff"/><stop offset="0.3125" stop-color="#00bfff"/><stop offset="0.3438" stop-color="#00dfff"/><stop offset="0.3750" stop-color="#00ffff"/><stop offset="0.4062" stop-color="#20ffdf"/><stop offset="0.4375" stop-color="#40ffbf"/><stop offset="0.4688" stop-color="#60ff9f"/><stop offset="0.5000" stop-color="#80ff80"/><stop offset="0.5312" stop-color="#9fff60"/><stop offset="0.5625" stop-color="#bfff40"/><stop offset="0.5938" stop-color="#dfff20"/><stop offset="0.6250" stop-color="#ffff00"/><stop offset="0.6562" stop-color="#ffdf00"/><stop offset="0.6875" stop-color="#ffbf00"/><stop offset="0.7188" stop-color="#ff9f00"/><stop offset="0.7500" stop-color="#ff8000"/><stop offset="0.7812" stop-color="#ff6000"/><stop offset="0.8125" stop-color="#ff4000"/><stop offset="0.8438" stop-color="#ff2000"/><stop offset="0.8750" stop-color="#ff0000"/><stop offset="0.9062" stop-color="#df0000"/><stop offset="0.9375" stop-color="#bf0000"/><stop offset="0.9688" stop-color="#9f0000"/><stop offset="1.0000" stop-color="#800000"/></linearGradient>
<linearGradient id="jgv" x1="0" x2="0" y1="0" y2="1"><stop offset="0.0000" stop-color="#800000"/><stop offset="0.0312" stop-color="#9f0000"/><stop offset="0.0625" stop-color="#bf0000"/><stop offset="0.0938" stop-color="#df0000"/><stop offset="0.1250" stop-color="#ff0000"/><stop offset="0.1562" stop-color="#ff2000"/><stop offset="0.1875" stop-color="#ff4000"/><stop offset="0.2188" stop-color="#ff6000"/><stop offset="0.2500" stop-color="#ff8000"/><stop offset="0.2812" stop-color="#ff9f00"/><stop offset="0.3125" stop-color="#ffbf00"/><stop offset="0.3438" stop-color="#ffdf00"/><stop offset="0.3750" stop-color="#ffff00"/><stop offset="0.4062" stop-color="#dfff20"/><stop offset="0.4375" stop-color="#bfff40"/><stop offset="0.4688" stop-color="#9fff60"/><stop offset="0.5000" stop-color="#80ff80"/><stop offset="0.5312" stop-color="#60ff9f"/><stop offset="0.5625" stop-color="#40ffbf"/><stop offset="0.5938" stop-color="#20ffdf"/><stop offset="0.6250" stop-color="#00ffff"/><stop offset="0.6562" stop-color="#00dfff"/><stop offset="0.6875" stop-color="#00bfff"/><stop offset="0.7188" stop-color="#009fff"/><stop offset="0.7500" stop-color="#0080ff"/><stop offset="0.7812" stop-color="#0060ff"/><stop offset="0.8125" stop-color="#0040ff"/><stop offset="0.8438" stop-color="#0020ff"/><stop offset="0.8750" stop-color="#0000ff"/><stop offset="0.9062" stop-color="#0000df"/><stop offset="0.9375" stop-color="#0000bf"/><stop offset="0.9688" stop-color="#00009f"/><stop offset="1.0000" stop-color="#000080"/></linearGradient>
</defs>
<rect x="55.0" y="242.38" width="122.45" height="5.75" fill="url(#gg)" stroke="#222" stroke-width="0.75"/>
<rect x="270.9" y="243.20" width="122.4" height="5.10" fill="url(#jg)"/>
<text x="55.60" y="239.70" font-size="9.70" text-anchor="middle" fill="#000" >0</text>
<text x="177.70" y="239.70" font-size="9.70" text-anchor="middle" fill="#000" >1</text>
<text x="272.40" y="240.90" font-size="9.70" text-anchor="middle" fill="#000" >0</text>
<text x="388.2" y="240.90" font-size="9.70">2<tspan font-family="Liberation Serif, serif" font-style="italic" font-size="11.0" dx="0.30">π</tspan></text>
<rect x="81.70" y="251.85" width="12.5" height="16.10" fill="#fff" stroke="#2a2a2a" stroke-width="0.9"/>
<text x="87.95" y="263.60" font-size="9.70" text-anchor="middle" fill="#000" >1</text>
<rect x="109.10" y="251.85" width="12.5" height="16.10" fill="#fff" stroke="#2a2a2a" stroke-width="0.9"/>
<text x="115.35" y="263.60" font-size="9.70" text-anchor="middle" fill="#000" >2</text>
<rect x="136.50" y="251.85" width="12.5" height="16.10" fill="#fff" stroke="#2a2a2a" stroke-width="0.9"/>
<text x="142.75" y="263.60" font-size="9.70" text-anchor="middle" fill="#000" >3</text>
<rect x="163.90" y="251.85" width="12.5" height="16.10" fill="#fff" stroke="#2a2a2a" stroke-width="0.9"/>
<text x="170.15" y="263.60" font-size="9.70" text-anchor="middle" fill="#000" >4</text>
<rect x="271.25" y="251.85" width="12.3" height="16.10" fill="#fff" stroke="#2a2a2a" stroke-width="0.9"/>
<text x="277.40" y="263.60" font-size="9.70" text-anchor="middle" fill="#000" >1</text>
<rect x="286.77" y="251.85" width="12.3" height="16.10" fill="#fff" stroke="#2a2a2a" stroke-width="0.9"/>
<text x="292.92" y="263.60" font-size="9.70" text-anchor="middle" fill="#000" >2</text>
<rect x="302.29" y="251.85" width="12.3" height="16.10" fill="#fff" stroke="#2a2a2a" stroke-width="0.9"/>
<text x="308.44" y="263.60" font-size="9.70" text-anchor="middle" fill="#000" >3</text>
<rect x="317.81" y="251.85" width="12.3" height="16.10" fill="#fff" stroke="#2a2a2a" stroke-width="0.9"/>
<text x="323.96" y="263.60" font-size="9.70" text-anchor="middle" fill="#000" >4</text>
<rect x="333.33" y="251.85" width="12.3" height="16.10" fill="#fff" stroke="#2a2a2a" stroke-width="0.9"/>
<text x="339.48" y="263.60" font-size="9.70" text-anchor="middle" fill="#000" >5</text>
<rect x="348.85" y="251.85" width="12.3" height="16.10" fill="#fff" stroke="#2a2a2a" stroke-width="0.9"/>
<text x="355.00" y="263.60" font-size="9.70" text-anchor="middle" fill="#000" >6</text>
<rect x="364.37" y="251.85" width="12.3" height="16.10" fill="#fff" stroke="#2a2a2a" stroke-width="0.9"/>
<text x="370.52" y="263.60" font-size="9.70" text-anchor="middle" fill="#000" >7</text>
<rect x="379.89" y="251.85" width="12.3" height="16.10" fill="#fff" stroke="#2a2a2a" stroke-width="0.9"/>
<text x="386.04" y="263.60" font-size="9.70" text-anchor="middle" fill="#000" >8</text>
<rect x="55.0" y="517.77" width="122.45" height="6.05" fill="url(#gg)" stroke="#222" stroke-width="0.75"/>
<rect x="270.9" y="517.90" width="122.4" height="6.30" fill="url(#jg)"/>
<text x="55.60" y="514.80" font-size="9.70" text-anchor="middle" fill="#000" >0</text>
<text x="177.70" y="514.80" font-size="9.70" text-anchor="middle" fill="#000" >1</text>
<text x="272.40" y="515.00" font-size="9.70" text-anchor="middle" fill="#000" >0</text>
<text x="388.2" y="515.00" font-size="9.70">2<tspan font-family="Liberation Serif, serif" font-style="italic" font-size="11.0" dx="0.30">π</tspan></text>
<rect x="81.70" y="527.55" width="12.5" height="15.20" fill="#fff" stroke="#2a2a2a" stroke-width="0.9"/>
<text x="87.95" y="538.85" font-size="9.70" text-anchor="middle" fill="#000" >1</text>
<rect x="109.10" y="527.55" width="12.5" height="15.20" fill="#fff" stroke="#2a2a2a" stroke-width="0.9"/>
<text x="115.35" y="538.85" font-size="9.70" text-anchor="middle" fill="#000" >2</text>
<rect x="136.50" y="527.55" width="12.5" height="15.20" fill="#fff" stroke="#2a2a2a" stroke-width="0.9"/>
<text x="142.75" y="538.85" font-size="9.70" text-anchor="middle" fill="#000" >3</text>
<rect x="163.90" y="527.55" width="12.5" height="15.20" fill="#fff" stroke="#2a2a2a" stroke-width="0.9"/>
<text x="170.15" y="538.85" font-size="9.70" text-anchor="middle" fill="#000" >4</text>
<rect x="271.25" y="527.55" width="12.3" height="15.20" fill="#fff" stroke="#2a2a2a" stroke-width="0.9"/>
<text x="277.40" y="538.85" font-size="9.70" text-anchor="middle" fill="#000" >1</text>
<rect x="286.77" y="527.55" width="12.3" height="15.20" fill="#fff" stroke="#2a2a2a" stroke-width="0.9"/>
<text x="292.92" y="538.85" font-size="9.70" text-anchor="middle" fill="#000" >2</text>
<rect x="302.29" y="527.55" width="12.3" height="15.20" fill="#fff" stroke="#2a2a2a" stroke-width="0.9"/>
<text x="308.44" y="538.85" font-size="9.70" text-anchor="middle" fill="#000" >3</text>
<rect x="317.81" y="527.55" width="12.3" height="15.20" fill="#fff" stroke="#2a2a2a" stroke-width="0.9"/>
<text x="323.96" y="538.85" font-size="9.70" text-anchor="middle" fill="#000" >4</text>
<rect x="333.33" y="527.55" width="12.3" height="15.20" fill="#fff" stroke="#2a2a2a" stroke-width="0.9"/>
<text x="339.48" y="538.85" font-size="9.70" text-anchor="middle" fill="#000" >5</text>
<rect x="348.85" y="527.55" width="12.3" height="15.20" fill="#fff" stroke="#2a2a2a" stroke-width="0.9"/>
<text x="355.00" y="538.85" font-size="9.70" text-anchor="middle" fill="#000" >6</text>
<rect x="364.37" y="527.55" width="12.3" height="15.20" fill="#fff" stroke="#2a2a2a" stroke-width="0.9"/>
<text x="370.52" y="538.85" font-size="9.70" text-anchor="middle" fill="#000" >7</text>
<rect x="379.89" y="527.55" width="12.3" height="15.20" fill="#fff" stroke="#2a2a2a" stroke-width="0.9"/>
<text x="386.04" y="538.85" font-size="9.70" text-anchor="middle" fill="#000" >8</text>
<circle cx="546.55" cy="114.45" r="21.75" fill="none" stroke="#000" stroke-width="0.8" stroke-dasharray="1.4 1.5"/>
<circle cx="546.55" cy="114.45" r="43.50" fill="none" stroke="#000" stroke-width="0.8" stroke-dasharray="1.4 1.5"/>
<circle cx="546.55" cy="114.45" r="65.25" fill="none" stroke="#000" stroke-width="0.8" stroke-dasharray="1.4 1.5"/>
<circle cx="546.55" cy="114.45" r="87.00" fill="none" stroke="#000" stroke-width="0.8" stroke-dasharray="1.4 1.5"/>
<path d="M459.55 114.45L633.55 114.45" stroke="#1c1c1c" stroke-width="0.9" fill="none"/>
<path d="M485.03 175.97L608.07 52.93" stroke="#1c1c1c" stroke-width="1.0" fill="none"/>
<path d="M546.55 201.45L546.55 27.45" stroke="#555" stroke-width="0.9" fill="none"/>
<path d="M608.07 175.97L485.03 52.93" stroke="#1c1c1c" stroke-width="1.0" fill="none"/>
<circle cx="546.55" cy="114.45" r="0.9" fill="#000"/>
<path d="M568.41 109.05A5.40 5.40 0 0 0 568.41 119.85Z" fill="#e8e8ec"/>
<path d="M568.41 109.05A5.40 5.40 0 0 1 568.41 119.85Z" fill="#1896f0"/>
<circle cx="568.41" cy="114.45" r="5.30" fill="none" stroke="#333" stroke-width="0.6"/>
<path d="M590.27 109.05A5.40 5.40 0 0 0 590.27 119.85Z" fill="#b2b2b6"/>
<path d="M590.27 109.05A5.40 5.40 0 0 1 590.27 119.85Z" fill="#1896f0"/>
<circle cx="590.27" cy="114.45" r="5.30" fill="none" stroke="#333" stroke-width="0.6"/>
<path d="M612.13 109.05A5.40 5.40 0 0 0 612.13 119.85Z" fill="#68686a"/>
<path d="M612.13 109.05A5.40 5.40 0 0 1 612.13 119.85Z" fill="#1896f0"/>
<circle cx="612.13" cy="114.45" r="5.30" fill="none" stroke="#333" stroke-width="0.6"/>
<path d="M633.98 109.05A5.40 5.40 0 0 0 633.98 119.85Z" fill="#000000"/>
<path d="M633.98 109.05A5.40 5.40 0 0 1 633.98 119.85Z" fill="#1896f0"/>
<circle cx="633.98" cy="114.45" r="5.30" fill="none" stroke="#333" stroke-width="0.6"/>
<path d="M561.93 93.67A5.40 5.40 0 0 0 561.93 104.47Z" fill="#e8e8ec"/>
<path d="M561.93 93.67A5.40 5.40 0 0 1 561.93 104.47Z" fill="#0040e0"/>
<circle cx="561.93" cy="99.07" r="5.30" fill="none" stroke="#333" stroke-width="0.6"/>
<path d="M577.31 78.29A5.40 5.40 0 0 0 577.31 89.09Z" fill="#b2b2b6"/>
<path d="M577.31 78.29A5.40 5.40 0 0 1 577.31 89.09Z" fill="#0040e0"/>
<circle cx="577.31" cy="83.69" r="5.30" fill="none" stroke="#333" stroke-width="0.6"/>
<path d="M592.69 62.91A5.40 5.40 0 0 0 592.69 73.71Z" fill="#68686a"/>
<path d="M592.69 62.91A5.40 5.40 0 0 1 592.69 73.71Z" fill="#0040e0"/>
<circle cx="592.69" cy="68.31" r="5.30" fill="none" stroke="#333" stroke-width="0.6"/>
<path d="M608.07 47.53A5.40 5.40 0 0 0 608.07 58.33Z" fill="#000000"/>
<path d="M608.07 47.53A5.40 5.40 0 0 1 608.07 58.33Z" fill="#0040e0"/>
<circle cx="608.07" cy="52.93" r="5.30" fill="none" stroke="#333" stroke-width="0.6"/>
<path d="M546.55 87.30A5.40 5.40 0 0 0 546.55 98.10Z" fill="#e8e8ec"/>
<path d="M546.55 87.30A5.40 5.40 0 0 1 546.55 98.10Z" fill="#00008f"/>
<circle cx="546.55" cy="92.70" r="5.30" fill="none" stroke="#333" stroke-width="0.6"/>
<path d="M546.55 65.55A5.40 5.40 0 0 0 546.55 76.35Z" fill="#b2b2b6"/>
<path d="M546.55 65.55A5.40 5.40 0 0 1 546.55 76.35Z" fill="#00008f"/>
<circle cx="546.55" cy="70.95" r="5.30" fill="none" stroke="#333" stroke-width="0.6"/>
<path d="M546.55 43.80A5.40 5.40 0 0 0 546.55 54.60Z" fill="#68686a"/>
<path d="M546.55 43.80A5.40 5.40 0 0 1 546.55 54.60Z" fill="#00008f"/>
<circle cx="546.55" cy="49.20" r="5.30" fill="none" stroke="#333" stroke-width="0.6"/>
<path d="M546.55 22.05A5.40 5.40 0 0 0 546.55 32.85Z" fill="#000000"/>
<path d="M546.55 22.05A5.40 5.40 0 0 1 546.55 32.85Z" fill="#00008f"/>
<circle cx="546.55" cy="27.45" r="5.30" fill="none" stroke="#333" stroke-width="0.6"/>
<path d="M531.17 93.67A5.40 5.40 0 0 0 531.17 104.47Z" fill="#e8e8ec"/>
<path d="M531.17 93.67A5.40 5.40 0 0 1 531.17 104.47Z" fill="#900000"/>
<circle cx="531.17" cy="99.07" r="5.30" fill="none" stroke="#333" stroke-width="0.6"/>
<path d="M515.79 78.29A5.40 5.40 0 0 0 515.79 89.09Z" fill="#b2b2b6"/>
<path d="M515.79 78.29A5.40 5.40 0 0 1 515.79 89.09Z" fill="#900000"/>
<circle cx="515.79" cy="83.69" r="5.30" fill="none" stroke="#333" stroke-width="0.6"/>
<path d="M500.41 62.91A5.40 5.40 0 0 0 500.41 73.71Z" fill="#68686a"/>
<path d="M500.41 62.91A5.40 5.40 0 0 1 500.41 73.71Z" fill="#900000"/>
<circle cx="500.41" cy="68.31" r="5.30" fill="none" stroke="#333" stroke-width="0.6"/>
<path d="M485.03 47.53A5.40 5.40 0 0 0 485.03 58.33Z" fill="#000000"/>
<path d="M485.03 47.53A5.40 5.40 0 0 1 485.03 58.33Z" fill="#900000"/>
<circle cx="485.03" cy="52.93" r="5.30" fill="none" stroke="#333" stroke-width="0.6"/>
<path d="M524.80 109.05A5.40 5.40 0 0 0 524.80 119.85Z" fill="#e8e8ec"/>
<path d="M524.80 109.05A5.40 5.40 0 0 1 524.80 119.85Z" fill="#f03c00"/>
<circle cx="524.80" cy="114.45" r="5.30" fill="none" stroke="#333" stroke-width="0.6"/>
<path d="M503.05 109.05A5.40 5.40 0 0 0 503.05 119.85Z" fill="#b2b2b6"/>
<path d="M503.05 109.05A5.40 5.40 0 0 1 503.05 119.85Z" fill="#f03c00"/>
<circle cx="503.05" cy="114.45" r="5.30" fill="none" stroke="#333" stroke-width="0.6"/>
<path d="M481.30 109.05A5.40 5.40 0 0 0 481.30 119.85Z" fill="#68686a"/>
<path d="M481.30 109.05A5.40 5.40 0 0 1 481.30 119.85Z" fill="#f03c00"/>
<circle cx="481.30" cy="114.45" r="5.30" fill="none" stroke="#333" stroke-width="0.6"/>
<path d="M459.55 109.05A5.40 5.40 0 0 0 459.55 119.85Z" fill="#000000"/>
<path d="M459.55 109.05A5.40 5.40 0 0 1 459.55 119.85Z" fill="#f03c00"/>
<circle cx="459.55" cy="114.45" r="5.30" fill="none" stroke="#333" stroke-width="0.6"/>
<path d="M531.17 124.43A5.40 5.40 0 0 0 531.17 135.23Z" fill="#e8e8ec"/>
<path d="M531.17 124.43A5.40 5.40 0 0 1 531.17 135.23Z" fill="#ff9a10"/>
<circle cx="531.17" cy="129.83" r="5.30" fill="none" stroke="#333" stroke-width="0.6"/>
<path d="M515.79 139.81A5.40 5.40 0 0 0 515.79 150.61Z" fill="#b2b2b6"/>
<path d="M515.79 139.81A5.40 5.40 0 0 1 515.79 150.61Z" fill="#ff9a10"/>
<circle cx="515.79" cy="145.21" r="5.30" fill="none" stroke="#333" stroke-width="0.6"/>
<path d="M500.41 155.19A5.40 5.40 0 0 0 500.41 165.99Z" fill="#68686a"/>
<path d="M500.41 155.19A5.40 5.40 0 0 1 500.41 165.99Z" fill="#ff9a10"/>
<circle cx="500.41" cy="160.59" r="5.30" fill="none" stroke="#333" stroke-width="0.6"/>
<path d="M485.03 170.57A5.40 5.40 0 0 0 485.03 181.37Z" fill="#000000"/>
<path d="M485.03 170.57A5.40 5.40 0 0 1 485.03 181.37Z" fill="#ff9a10"/>
<circle cx="485.03" cy="175.97" r="5.30" fill="none" stroke="#333" stroke-width="0.6"/>
<path d="M546.55 130.47A5.40 5.40 0 0 0 546.55 141.27Z" fill="#e8e8ec"/>
<path d="M546.55 130.47A5.40 5.40 0 0 1 546.55 141.27Z" fill="#c8ff30"/>
<circle cx="546.55" cy="135.87" r="5.30" fill="none" stroke="#333" stroke-width="0.6"/>
<path d="M546.55 151.90A5.40 5.40 0 0 0 546.55 162.70Z" fill="#b2b2b6"/>
<path d="M546.55 151.90A5.40 5.40 0 0 1 546.55 162.70Z" fill="#c8ff30"/>
<circle cx="546.55" cy="157.30" r="5.30" fill="none" stroke="#333" stroke-width="0.6"/>
<path d="M546.55 173.32A5.40 5.40 0 0 0 546.55 184.12Z" fill="#68686a"/>
<path d="M546.55 173.32A5.40 5.40 0 0 1 546.55 184.12Z" fill="#c8ff30"/>
<circle cx="546.55" cy="178.72" r="5.30" fill="none" stroke="#333" stroke-width="0.6"/>
<path d="M546.55 194.74A5.40 5.40 0 0 0 546.55 205.54Z" fill="#000000"/>
<path d="M546.55 194.74A5.40 5.40 0 0 1 546.55 205.54Z" fill="#c8ff30"/>
<circle cx="546.55" cy="200.14" r="5.30" fill="none" stroke="#333" stroke-width="0.6"/>
<path d="M561.93 124.43A5.40 5.40 0 0 0 561.93 135.23Z" fill="#e8e8ec"/>
<path d="M561.93 124.43A5.40 5.40 0 0 1 561.93 135.23Z" fill="#40ffc0"/>
<circle cx="561.93" cy="129.83" r="5.30" fill="none" stroke="#333" stroke-width="0.6"/>
<path d="M577.31 139.81A5.40 5.40 0 0 0 577.31 150.61Z" fill="#b2b2b6"/>
<path d="M577.31 139.81A5.40 5.40 0 0 1 577.31 150.61Z" fill="#40ffc0"/>
<circle cx="577.31" cy="145.21" r="5.30" fill="none" stroke="#333" stroke-width="0.6"/>
<path d="M592.69 155.19A5.40 5.40 0 0 0 592.69 165.99Z" fill="#68686a"/>
<path d="M592.69 155.19A5.40 5.40 0 0 1 592.69 165.99Z" fill="#40ffc0"/>
<circle cx="592.69" cy="160.59" r="5.30" fill="none" stroke="#333" stroke-width="0.6"/>
<path d="M608.07 170.57A5.40 5.40 0 0 0 608.07 181.37Z" fill="#000000"/>
<path d="M608.07 170.57A5.40 5.40 0 0 1 608.07 181.37Z" fill="#40ffc0"/>
<circle cx="608.07" cy="175.97" r="5.30" fill="none" stroke="#333" stroke-width="0.6"/>
<text x="539.00" y="19.90" font-size="9.70"><tspan font-family="Liberation Serif, serif" font-style="italic" font-size="11.0" dx="0.00">π</tspan><tspan font-size="11.5" dx="-0.1" dy="0.9">/</tspan><tspan dx="0.7" dy="-0.9">2</tspan></text>
<text x="602.90" y="44.10" font-size="9.70"><tspan font-family="Liberation Serif, serif" font-style="italic" font-size="11.0" dx="0.00">π</tspan><tspan font-size="11.5" dx="-0.1" dy="0.9">/</tspan><tspan dx="0.7" dy="-0.9">4</tspan></text>
<text x="473.00" y="43.90" font-size="9.70">3<tspan font-family="Liberation Serif, serif" font-style="italic" font-size="11.0" dx="0.30">π</tspan><tspan font-size="11.5" dx="-0.1" dy="0.9">/</tspan><tspan dx="0.7" dy="-0.9">4</tspan></text>
<text x="446.40" y="117.70" font-size="9.70"><tspan font-family="Liberation Serif, serif" font-style="italic" font-size="11.0" dx="0.00">π</tspan></text>
<text x="644.60" y="117.05" font-size="9.70" text-anchor="middle" fill="#000" >0</text>
<text x="473.30" y="191.60" font-size="9.70">5<tspan font-family="Liberation Serif, serif" font-style="italic" font-size="11.0" dx="0.30">π</tspan><tspan font-size="11.5" dx="-0.1" dy="0.9">/</tspan><tspan dx="0.7" dy="-0.9">4</tspan></text>
<text x="599.70" y="191.20" font-size="9.70">7<tspan font-family="Liberation Serif, serif" font-style="italic" font-size="11.0" dx="0.30">π</tspan><tspan font-size="11.5" dx="-0.1" dy="0.9">/</tspan><tspan dx="0.7" dy="-0.9">4</tspan></text>
<text x="535.60" y="215.00" font-size="9.70">3<tspan font-family="Liberation Serif, serif" font-style="italic" font-size="11.0" dx="0.30">π</tspan><tspan font-size="11.5" dx="-0.1" dy="0.9">/</tspan><tspan dx="0.7" dy="-0.9">2</tspan></text>
<text x="457.10" y="86.60" font-size="9.70" text-anchor="middle" fill="#000" >1</text>
<text x="474.85" y="93.80" font-size="9.70" text-anchor="middle" fill="#000" >0.75</text>
<text x="494.95" y="99.80" font-size="9.70" text-anchor="middle" fill="#000" >0.5</text>
<text x="515.65" y="107.00" font-size="9.70" text-anchor="middle" fill="#000" >0.25</text>
<circle cx="546.50" cy="391.50" r="21.75" fill="none" stroke="#000" stroke-width="0.8" stroke-dasharray="1.4 1.5"/>
<circle cx="546.50" cy="391.50" r="43.50" fill="none" stroke="#000" stroke-width="0.8" stroke-dasharray="1.4 1.5"/>
<circle cx="546.50" cy="391.50" r="65.25" fill="none" stroke="#000" stroke-width="0.8" stroke-dasharray="1.4 1.5"/>
<circle cx="546.50" cy="391.50" r="87.00" fill="none" stroke="#000" stroke-width="0.8" stroke-dasharray="1.4 1.5"/>
<path d="M459.50 391.50L633.50 391.50" stroke="#555" stroke-width="0.9" fill="none"/>
<path d="M484.98 453.02L608.02 329.98" stroke="#1c1c1c" stroke-width="1.0" fill="none"/>
<path d="M546.50 478.50L546.50 304.50" stroke="#555" stroke-width="0.9" fill="none"/>
<path d="M608.02 453.02L484.98 329.98" stroke="#1c1c1c" stroke-width="1.0" fill="none"/>
<circle cx="546.50" cy="391.50" r="0.9" fill="#000"/>
<path d="M568.42 386.10A5.40 5.40 0 0 0 568.42 396.90Z" fill="#e8e8ec"/>
<path d="M568.42 386.10A5.40 5.40 0 0 1 568.42 396.90Z" fill="#ffa010"/>
<circle cx="568.42" cy="391.50" r="5.30" fill="none" stroke="#333" stroke-width="0.6"/>
<path d="M590.35 386.10A5.40 5.40 0 0 0 590.35 396.90Z" fill="#b2b2b6"/>
<path d="M590.35 386.10A5.40 5.40 0 0 1 590.35 396.90Z" fill="#ffa010"/>
<circle cx="590.35" cy="391.50" r="5.30" fill="none" stroke="#333" stroke-width="0.6"/>
<path d="M612.27 386.10A5.40 5.40 0 0 0 612.27 396.90Z" fill="#68686a"/>
<path d="M612.27 386.10A5.40 5.40 0 0 1 612.27 396.90Z" fill="#ffa010"/>
<circle cx="612.27" cy="391.50" r="5.30" fill="none" stroke="#333" stroke-width="0.6"/>
<path d="M634.20 386.10A5.40 5.40 0 0 0 634.20 396.90Z" fill="#000000"/>
<path d="M634.20 386.10A5.40 5.40 0 0 1 634.20 396.90Z" fill="#ffa010"/>
<circle cx="634.20" cy="391.50" r="5.30" fill="none" stroke="#333" stroke-width="0.6"/>
<path d="M561.88 370.72A5.40 5.40 0 0 0 561.88 381.52Z" fill="#e8e8ec"/>
<path d="M561.88 370.72A5.40 5.40 0 0 1 561.88 381.52Z" fill="#c0ff40"/>
<circle cx="561.88" cy="376.12" r="5.30" fill="none" stroke="#333" stroke-width="0.6"/>
<path d="M577.26 355.34A5.40 5.40 0 0 0 577.26 366.14Z" fill="#b2b2b6"/>
<path d="M577.26 355.34A5.40 5.40 0 0 1 577.26 366.14Z" fill="#c0ff40"/>
<circle cx="577.26" cy="360.74" r="5.30" fill="none" stroke="#333" stroke-width="0.6"/>
<path d="M592.64 339.96A5.40 5.40 0 0 0 592.64 350.76Z" fill="#68686a"/>
<path d="M592.64 339.96A5.40 5.40 0 0 1 592.64 350.76Z" fill="#c0ff40"/>
<circle cx="592.64" cy="345.36" r="5.30" fill="none" stroke="#333" stroke-width="0.6"/>
<path d="M608.02 324.58A5.40 5.40 0 0 0 608.02 335.38Z" fill="#000000"/>
<path d="M608.02 324.58A5.40 5.40 0 0 1 608.02 335.38Z" fill="#c0ff40"/>
<circle cx="608.02" cy="329.98" r="5.30" fill="none" stroke="#333" stroke-width="0.6"/>
<path d="M546.50 364.57A5.40 5.40 0 0 0 546.50 375.37Z" fill="#e8e8ec"/>
<path d="M546.50 364.57A5.40 5.40 0 0 1 546.50 375.37Z" fill="#30ffd0"/>
<circle cx="546.50" cy="369.97" r="5.30" fill="none" stroke="#333" stroke-width="0.6"/>
<path d="M546.50 343.04A5.40 5.40 0 0 0 546.50 353.83Z" fill="#b2b2b6"/>
<path d="M546.50 343.04A5.40 5.40 0 0 1 546.50 353.83Z" fill="#30ffd0"/>
<circle cx="546.50" cy="348.44" r="5.30" fill="none" stroke="#333" stroke-width="0.6"/>
<path d="M546.50 321.50A5.40 5.40 0 0 0 546.50 332.30Z" fill="#68686a"/>
<path d="M546.50 321.50A5.40 5.40 0 0 1 546.50 332.30Z" fill="#30ffd0"/>
<circle cx="546.50" cy="326.90" r="5.30" fill="none" stroke="#333" stroke-width="0.6"/>
<path d="M546.50 299.97A5.40 5.40 0 0 0 546.50 310.77Z" fill="#000000"/>
<path d="M546.50 299.97A5.40 5.40 0 0 1 546.50 310.77Z" fill="#30ffd0"/>
<circle cx="546.50" cy="305.37" r="5.30" fill="none" stroke="#333" stroke-width="0.6"/>
<path d="M531.12 370.72A5.40 5.40 0 0 0 531.12 381.52Z" fill="#e8e8ec"/>
<path d="M531.12 370.72A5.40 5.40 0 0 1 531.12 381.52Z" fill="#2090f0"/>
<circle cx="531.12" cy="376.12" r="5.30" fill="none" stroke="#333" stroke-width="0.6"/>
<path d="M515.74 355.34A5.40 5.40 0 0 0 515.74 366.14Z" fill="#b2b2b6"/>
<path d="M515.74 355.34A5.40 5.40 0 0 1 515.74 366.14Z" fill="#2090f0"/>
<circle cx="515.74" cy="360.74" r="5.30" fill="none" stroke="#333" stroke-width="0.6"/>
<path d="M500.36 339.96A5.40 5.40 0 0 0 500.36 350.76Z" fill="#68686a"/>
<path d="M500.36 339.96A5.40 5.40 0 0 1 500.36 350.76Z" fill="#2090f0"/>
<circle cx="500.36" cy="345.36" r="5.30" fill="none" stroke="#333" stroke-width="0.6"/>
<path d="M484.98 324.58A5.40 5.40 0 0 0 484.98 335.38Z" fill="#000000"/>
<path d="M484.98 324.58A5.40 5.40 0 0 1 484.98 335.38Z" fill="#2090f0"/>
<circle cx="484.98" cy="329.98" r="5.30" fill="none" stroke="#333" stroke-width="0.6"/>
<path d="M524.71 386.10A5.40 5.40 0 0 0 524.71 396.90Z" fill="#e8e8ec"/>
<path d="M524.71 386.10A5.40 5.40 0 0 1 524.71 396.90Z" fill="#0040e0"/>
<circle cx="524.71" cy="391.50" r="5.30" fill="none" stroke="#333" stroke-width="0.6"/>
<path d="M502.91 386.10A5.40 5.40 0 0 0 502.91 396.90Z" fill="#b2b2b6"/>
<path d="M502.91 386.10A5.40 5.40 0 0 1 502.91 396.90Z" fill="#0040e0"/>
<circle cx="502.91" cy="391.50" r="5.30" fill="none" stroke="#333" stroke-width="0.6"/>
<path d="M481.12 386.10A5.40 5.40 0 0 0 481.12 396.90Z" fill="#68686a"/>
<path d="M481.12 386.10A5.40 5.40 0 0 1 481.12 396.90Z" fill="#0040e0"/>
<circle cx="481.12" cy="391.50" r="5.30" fill="none" stroke="#333" stroke-width="0.6"/>
<path d="M459.33 386.10A5.40 5.40 0 0 0 459.33 396.90Z" fill="#000000"/>
<path d="M459.33 386.10A5.40 5.40 0 0 1 459.33 396.90Z" fill="#0040e0"/>
<circle cx="459.33" cy="391.50" r="5.30" fill="none" stroke="#333" stroke-width="0.6"/>
<path d="M531.12 401.48A5.40 5.40 0 0 0 531.12 412.28Z" fill="#e8e8ec"/>
<path d="M531.12 401.48A5.40 5.40 0 0 1 531.12 412.28Z" fill="#000090"/>
<circle cx="531.12" cy="406.88" r="5.30" fill="none" stroke="#333" stroke-width="0.6"/>
<path d="M515.74 416.86A5.40 5.40 0 0 0 515.74 427.66Z" fill="#b2b2b6"/>
<path d="M515.74 416.86A5.40 5.40 0 0 1 515.74 427.66Z" fill="#000090"/>
<circle cx="515.74" cy="422.26" r="5.30" fill="none" stroke="#333" stroke-width="0.6"/>
<path d="M500.36 432.24A5.40 5.40 0 0 0 500.36 443.04Z" fill="#68686a"/>
<path d="M500.36 432.24A5.40 5.40 0 0 1 500.36 443.04Z" fill="#000090"/>
<circle cx="500.36" cy="437.64" r="5.30" fill="none" stroke="#333" stroke-width="0.6"/>
<path d="M484.98 447.62A5.40 5.40 0 0 0 484.98 458.42Z" fill="#000000"/>
<path d="M484.98 447.62A5.40 5.40 0 0 1 484.98 458.42Z" fill="#000090"/>
<circle cx="484.98" cy="453.02" r="5.30" fill="none" stroke="#333" stroke-width="0.6"/>
<path d="M546.50 407.74A5.40 5.40 0 0 0 546.50 418.54Z" fill="#e8e8ec"/>
<path d="M546.50 407.74A5.40 5.40 0 0 1 546.50 418.54Z" fill="#900000"/>
<circle cx="546.50" cy="413.14" r="5.30" fill="none" stroke="#333" stroke-width="0.6"/>
<path d="M546.50 429.38A5.40 5.40 0 0 0 546.50 440.18Z" fill="#b2b2b6"/>
<path d="M546.50 429.38A5.40 5.40 0 0 1 546.50 440.18Z" fill="#900000"/>
<circle cx="546.50" cy="434.78" r="5.30" fill="none" stroke="#333" stroke-width="0.6"/>
<path d="M546.50 451.02A5.40 5.40 0 0 0 546.50 461.82Z" fill="#68686a"/>
<path d="M546.50 451.02A5.40 5.40 0 0 1 546.50 461.82Z" fill="#900000"/>
<circle cx="546.50" cy="456.42" r="5.30" fill="none" stroke="#333" stroke-width="0.6"/>
<path d="M546.50 472.67A5.40 5.40 0 0 0 546.50 483.46Z" fill="#000000"/>
<path d="M546.50 472.67A5.40 5.40 0 0 1 546.50 483.46Z" fill="#900000"/>
<circle cx="546.50" cy="478.06" r="5.30" fill="none" stroke="#333" stroke-width="0.6"/>
<path d="M561.88 401.48A5.40 5.40 0 0 0 561.88 412.28Z" fill="#e8e8ec"/>
<path d="M561.88 401.48A5.40 5.40 0 0 1 561.88 412.28Z" fill="#f04000"/>
<circle cx="561.88" cy="406.88" r="5.30" fill="none" stroke="#333" stroke-width="0.6"/>
<path d="M577.26 416.86A5.40 5.40 0 0 0 577.26 427.66Z" fill="#b2b2b6"/>
<path d="M577.26 416.86A5.40 5.40 0 0 1 577.26 427.66Z" fill="#f04000"/>
<circle cx="577.26" cy="422.26" r="5.30" fill="none" stroke="#333" stroke-width="0.6"/>
<path d="M592.64 432.24A5.40 5.40 0 0 0 592.64 443.04Z" fill="#68686a"/>
<path d="M592.64 432.24A5.40 5.40 0 0 1 592.64 443.04Z" fill="#f04000"/>
<circle cx="592.64" cy="437.64" r="5.30" fill="none" stroke="#333" stroke-width="0.6"/>
<path d="M608.02 447.62A5.40 5.40 0 0 0 608.02 458.42Z" fill="#000000"/>
<path d="M608.02 447.62A5.40 5.40 0 0 1 608.02 458.42Z" fill="#f04000"/>
<circle cx="608.02" cy="453.02" r="5.30" fill="none" stroke="#333" stroke-width="0.6"/>
<text x="539.00" y="296.90" font-size="9.70"><tspan font-family="Liberation Serif, serif" font-style="italic" font-size="11.0" dx="0.00">π</tspan><tspan font-size="11.5" dx="-0.1" dy="0.9">/</tspan><tspan dx="0.7" dy="-0.9">2</tspan></text>
<text x="602.90" y="321.10" font-size="9.70"><tspan font-family="Liberation Serif, serif" font-style="italic" font-size="11.0" dx="0.00">π</tspan><tspan font-size="11.5" dx="-0.1" dy="0.9">/</tspan><tspan dx="0.7" dy="-0.9">4</tspan></text>
<text x="473.00" y="320.90" font-size="9.70">3<tspan font-family="Liberation Serif, serif" font-style="italic" font-size="11.0" dx="0.30">π</tspan><tspan font-size="11.5" dx="-0.1" dy="0.9">/</tspan><tspan dx="0.7" dy="-0.9">4</tspan></text>
<text x="446.40" y="394.70" font-size="9.70"><tspan font-family="Liberation Serif, serif" font-style="italic" font-size="11.0" dx="0.00">π</tspan></text>
<text x="644.60" y="394.05" font-size="9.70" text-anchor="middle" fill="#000" >0</text>
<text x="473.30" y="468.60" font-size="9.70">5<tspan font-family="Liberation Serif, serif" font-style="italic" font-size="11.0" dx="0.30">π</tspan><tspan font-size="11.5" dx="-0.1" dy="0.9">/</tspan><tspan dx="0.7" dy="-0.9">4</tspan></text>
<text x="599.70" y="468.20" font-size="9.70">7<tspan font-family="Liberation Serif, serif" font-style="italic" font-size="11.0" dx="0.30">π</tspan><tspan font-size="11.5" dx="-0.1" dy="0.9">/</tspan><tspan dx="0.7" dy="-0.9">4</tspan></text>
<text x="535.60" y="492.00" font-size="9.70">3<tspan font-family="Liberation Serif, serif" font-style="italic" font-size="11.0" dx="0.30">π</tspan><tspan font-size="11.5" dx="-0.1" dy="0.9">/</tspan><tspan dx="0.7" dy="-0.9">2</tspan></text>
<text x="457.10" y="363.60" font-size="9.70" text-anchor="middle" fill="#000" >1</text>
<text x="474.85" y="370.80" font-size="9.70" text-anchor="middle" fill="#000" >0.75</text>
<text x="494.95" y="376.80" font-size="9.70" text-anchor="middle" fill="#000" >0.5</text>
<text x="515.65" y="384.00" font-size="9.70" text-anchor="middle" fill="#000" >0.25</text>
<rect x="656.35" y="119.55" width="5.3" height="92.70" fill="url(#ggv)" stroke="#000" stroke-width="0.7"/>
<rect x="680.2" y="119.30" width="6" height="93.00" fill="url(#jgv)"/>
<text x="654.20" y="126.40" font-size="9.70" text-anchor="end" fill="#000" >4</text>
<text x="654.20" y="213.80" font-size="9.70" text-anchor="end" fill="#000" >1</text>
<text x="679.80" y="126.40" font-size="9.70" text-anchor="end" fill="#000" >60</text>
<text x="679.80" y="213.80" font-size="9.70" text-anchor="end" fill="#000" >30</text>
<text transform="translate(651.00 184.00) rotate(-90)" font-size="9.70" text-anchor="start"><tspan font-style="italic">D</tspan><tspan font-size="5.2" dy="-4.0" dx="0.4">1</tspan><tspan font-size="5.2" dy="5.8" dx="-2.9">4</tspan><tspan dy="-1.8" dx="1.2"> (mm)</tspan></text>
<text transform="translate(675.80 184.00) rotate(-90)" font-size="9.70" text-anchor="start"><tspan font-style="italic">H</tspan><tspan font-size="5.2" dy="-4.0" dx="0.4">1</tspan><tspan font-size="5.2" dy="5.8" dx="-2.9">6</tspan><tspan dy="-1.8" dx="1.2"> (mm)</tspan></text>
<rect x="656.35" y="398.55" width="5.3" height="90.50" fill="url(#ggv)" stroke="#000" stroke-width="0.7"/>
<rect x="680.2" y="398.30" width="6" height="90.80" fill="url(#jgv)"/>
<text x="654.20" y="404.40" font-size="9.70" text-anchor="end" fill="#000" >4</text>
<text x="654.20" y="491.80" font-size="9.70" text-anchor="end" fill="#000" >1</text>
<text x="679.80" y="404.40" font-size="9.70" text-anchor="end" fill="#000" >55</text>
<text x="679.80" y="491.80" font-size="9.70" text-anchor="end" fill="#000" >35</text>
<text transform="translate(651.00 462.00) rotate(-90)" font-size="9.70" text-anchor="start"><tspan font-style="italic">D</tspan><tspan font-size="5.2" dy="-4.0" dx="0.4">2</tspan><tspan font-size="5.2" dy="5.8" dx="-2.9">4</tspan><tspan dy="-1.8" dx="1.2"> (mm)</tspan></text>
<text transform="translate(675.80 462.00) rotate(-90)" font-size="9.70" text-anchor="start"><tspan font-style="italic">H</tspan><tspan font-size="5.2" dy="-4.0" dx="0.4">2</tspan><tspan font-size="5.2" dy="5.8" dx="-2.9">6</tspan><tspan dy="-1.8" dx="1.2"> (mm)</tspan></text>
</svg></div>
</body></html>
